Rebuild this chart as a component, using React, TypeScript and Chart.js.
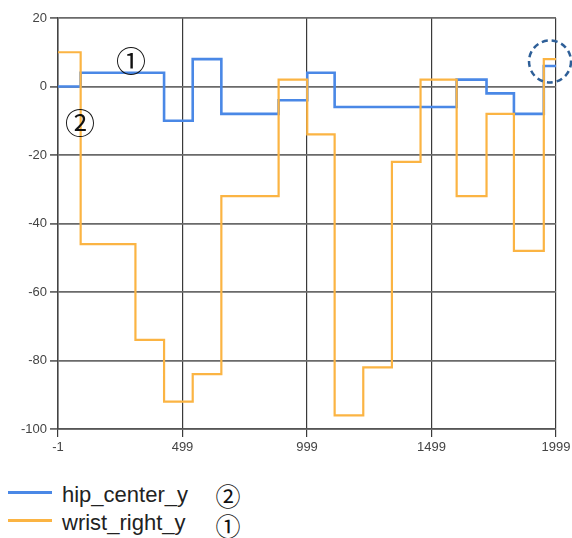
import React, { useEffect, useRef } from "react";
import { Chart, registerables } from "chart.js";

Chart.register(...registerables);

// ---- data ----
const hipX = [-1, 90, 425, 540, 655, 885, 1000, 1110, 1600, 1720, 1830, 1950, 1999];
const hipY = [0, 4, -10, 8, -8, -4, 4, -6, 2, -2, -8, 6, 6];
const wristX = [-1, 90, 310, 425, 540, 655, 885, 1000, 1110, 1225, 1340, 1455, 1600, 1720, 1830, 1950, 1999];
const wristY = [10, -46, -74, -92, -84, -32, 2, -14, -96, -82, -22, 2, -32, -8, -48, 8, 8];
const xTicks = [-1, 499, 999, 1499, 1999];
const yTicks = [-100, -80, -60, -40, -20, 0, 20];
const seriesNames = ["hip_center_y", "wrist_right_y"];
const seriesMarks = ["②", "①"];

// annotation anchors (data coordinates)
const markOne = { x: 292, y: 7.6, text: "①" };
const markTwo = { x: 87, y: -10.5, text: "②" };
const circleAnchor = { x: 1975, y: 7.3 };

const BLUE = "#4a88e6";
const ORANGE = "#fbb443";
const CIRCLED_FONT = '"Noto Sans CJK JP", "DejaVu Sans", serif';

const annotPlugin = {
  id: "annot",
  afterDatasetsDraw(chart: any) {
    const { ctx, scales } = chart;
    const xs = scales.x;
    const ys = scales.y;
    ctx.save();
    ctx.fillStyle = "#111";
    ctx.font = `30px ${CIRCLED_FONT}`;
    ctx.textAlign = "center";
    ctx.textBaseline = "middle";
    for (const m of [markOne, markTwo]) {
      ctx.fillText(m.text, xs.getPixelForValue(m.x), ys.getPixelForValue(m.y));
    }
    ctx.strokeStyle = "#2e5f98";
    ctx.lineWidth = 2.5;
    ctx.setLineDash([6, 4]);
    ctx.beginPath();
    ctx.arc(xs.getPixelForValue(circleAnchor.x), ys.getPixelForValue(circleAnchor.y), 21, 0, Math.PI * 2);
    ctx.stroke();
    ctx.restore();
  },
};

export default function App() {
  const ref = useRef<HTMLCanvasElement | null>(null);

  useEffect(() => {
    document.body.style.margin = "0";
    const canvas = ref.current;
    if (!canvas) return;
    const chart = new Chart(canvas, {
      type: "line",
      data: {
        datasets: [
          {
            label: seriesNames[1],
            data: wristX.map((x, i) => ({ x, y: wristY[i] })),
            borderColor: ORANGE,
            borderWidth: 2.2,
            pointRadius: 0,
            stepped: "before",
            fill: false,
          },
          {
            label: seriesNames[0],
            data: hipX.map((x, i) => ({ x, y: hipY[i] })),
            borderColor: BLUE,
            borderWidth: 2.6,
            pointRadius: 0,
            stepped: "before",
            fill: false,
          },
        ],
      },
      options: {
        animation: false,
        responsive: false,
        maintainAspectRatio: false,
        devicePixelRatio: 1,
        layout: { padding: { top: 18, right: 16, left: 0, bottom: 0 } },
        plugins: { legend: { display: false }, tooltip: { enabled: false } },
        scales: {
          x: {
            type: "linear",
            min: -1,
            max: 1999,
            afterBuildTicks: (s: any) => {
              s.ticks = xTicks.map((v) => ({ value: v }));
            },
            afterFit: (s: any) => {
              s.height = 22;
              s.paddingLeft = 0;
              s.paddingRight = 0;
            },
            grid: { color: "#3a3a3a", lineWidth: 1.2, tickLength: 8, drawTicks: true },
            border: { color: "#555", width: 1.5 },
            ticks: {
              autoSkip: false,
              maxRotation: 0,
              padding: 3,
              color: "#444",
              font: { family: "Liberation Sans, Arial, sans-serif", size: 13 },
              callback: (v: any) => String(v),
            },
          },
          y: {
            type: "linear",
            min: -100,
            max: 20,
            afterBuildTicks: (s: any) => {
              s.ticks = yTicks.map((v) => ({ value: v }));
            },
            afterFit: (s: any) => {
              s.width = 58;
              s.paddingTop = 0;
              s.paddingBottom = 0;
            },
            grid: { color: "#6a6a6a", lineWidth: 1.8, tickLength: 8 },
            border: { color: "#444", width: 1.5 },
            ticks: {
              padding: 3,
              color: "#444",
              font: { family: "Liberation Sans, Arial, sans-serif", size: 13 },
              callback: (v: any) => String(v),
            },
          },
        },
      },
      plugins: [annotPlugin],
    } as any);
    return () => chart.destroy();
  }, []);

  const legendRows = [
    { color: BLUE, name: seriesNames[0], mark: seriesMarks[0], lineY: 492, top: 484, markY: 495 },
    { color: ORANGE, name: seriesNames[1], mark: seriesMarks[1], lineY: 520, top: 512, markY: 525 },
  ];

  return (
    <div style={{ position: "absolute", left: 0, top: 0, width: 572, height: 538, background: "#fff" }}>
      <canvas ref={ref} width={572} height={451} style={{ position: "absolute", left: 0, top: 0 }} />
      {legendRows.map((r) => (
        <React.Fragment key={r.name}>
          <div
            style={{
              position: "absolute",
              left: 8,
              top: r.lineY - 1.5,
              width: 44,
              height: 3.5,
              background: r.color,
            }}
          />
          <div
            style={{
              position: "absolute",
              left: 62,
              top: r.top,
              fontFamily: "Liberation Sans, Arial, sans-serif",
              fontSize: 22,
              lineHeight: "22px",
              color: "#222",
              whiteSpace: "nowrap",
            }}
          >
            {r.name}
          </div>
          <div
            style={{
              position: "absolute",
              left: 228,
              top: r.markY,
              transform: "translate(-50%, -50%)",
              fontFamily: CIRCLED_FONT,
              fontSize: 25,
              lineHeight: "26px",
              color: "#111",
            }}
          >
            {r.mark}
          </div>
        </React.Fragment>
      ))}
    </div>
  );
}
